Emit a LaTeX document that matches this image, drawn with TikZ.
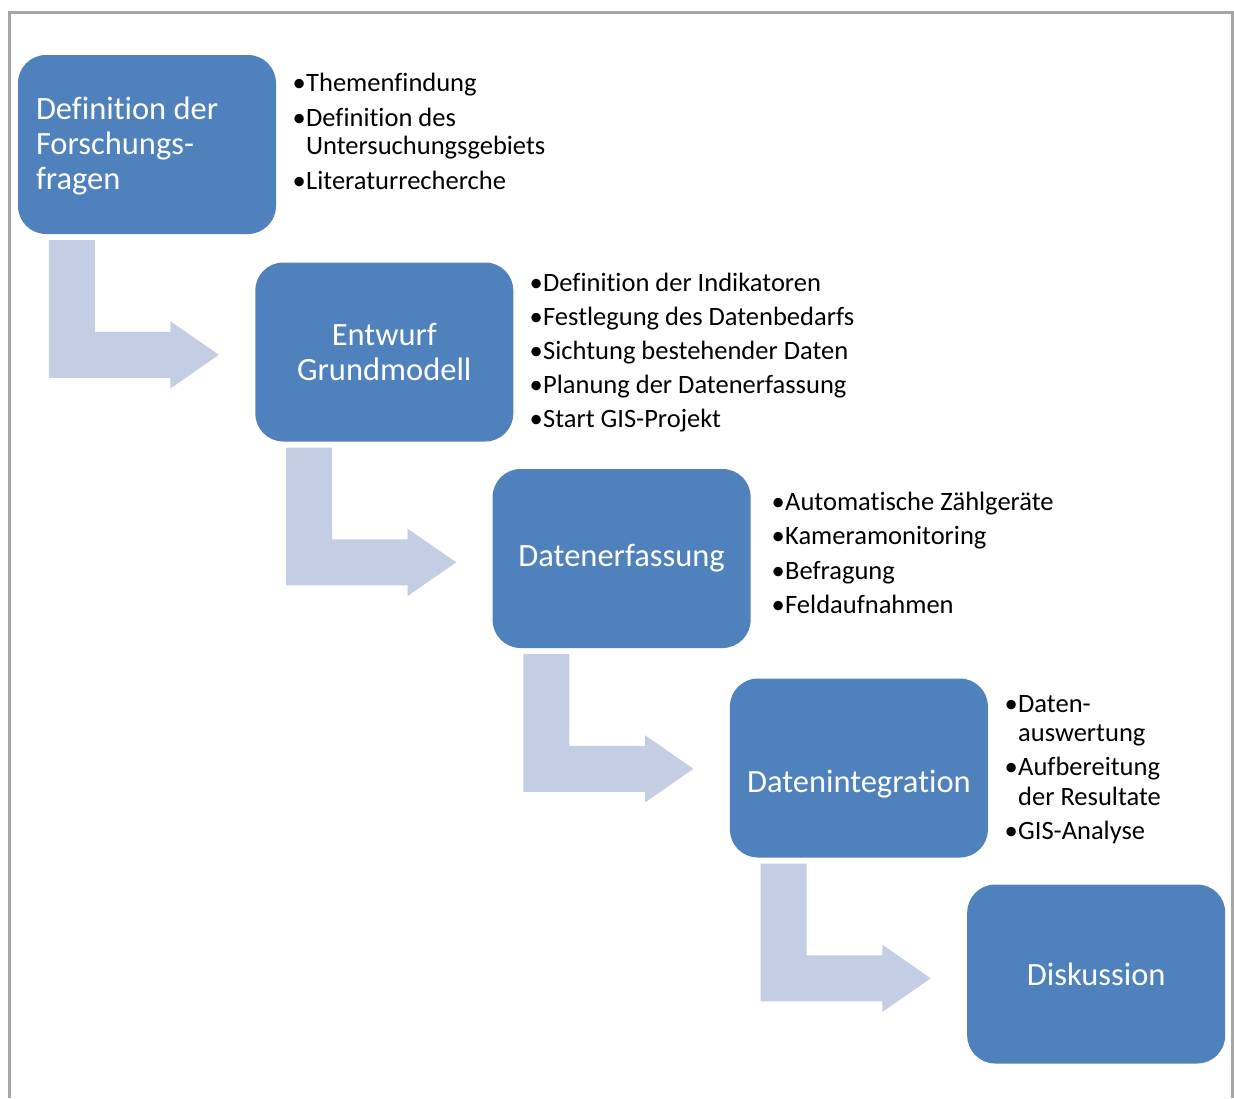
\documentclass[tikz,border=0pt]{standalone}
\usepackage{fontspec}
\setmainfont[Ligatures=CommonOff]{Carlito}
\usetikzlibrary{calc}
\definecolor{boxblue}{HTML}{4F81BD}
\definecolor{arrowblue}{HTML}{C3CDE3}
\definecolor{framegray}{HTML}{A6A6A6}
\newcommand\bulletmark{\makebox[13.5pt][l]{\textbullet}}
\begin{document}
\begin{tikzpicture}[x=1pt,y=-1pt,
  stepbox/.style={fill=boxblue, rounded corners=28pt, minimum width=258pt,
    minimum height=179pt, inner sep=0pt, text=white,
    font=\fontsize{32.5}{35}\selectfont, align=flush center},
  boxtext/.style={text=white, inner sep=0pt, font=\fontsize{32.5}{35}\selectfont},
  listline/.style={anchor=base west, inner sep=0pt, text=black,
    font=\fontsize{26.5}{28.5}\selectfont},
  bentarrow/.style={fill=arrowblue}]
\useasboundingbox (0,0) rectangle (1234,1098);
\draw[framegray, line width=3pt] (9.5,1098) -- (9.5,12.5) -- (1232.5,12.5) -- (1232.5,1098);

% boxes
\node[stepbox] (b1) at (147,144.5) {};
\node[boxtext, text width=222pt, align=flush left] (t1) at ($(b1.center)+(0,2)$) {Definition der\\Forschungs-\\fragen};
\node[stepbox] (b2) at (384.3,352) {Entwurf\\Grundmodell};
\node[stepbox] (b3) at (621.6,558.5) {Datenerfassung};
\node[stepbox] (b4) at (858.9,768) {};
\node[boxtext] (t4) at ($(b4.center)+(0,16)$) {Datenintegration};
\node[stepbox] (b5) at (1096.2,974) {Diskussion};

% bent arrows
\foreach \b in {b1,b2,b3,b4}{
  \begin{scope}[shift={($(\b.south west)+(31,6)$)}]
    \fill[arrowblue] (0,0) -- (46,0) -- (46,91.6) -- (121.6,91.6) -- (121.6,81)
      -- (170,114.6) -- (121.6,148.3) -- (121.6,137.6) -- (0,137.6) -- cycle;
  \end{scope}
}

% lists
\node[listline] (l1a) at (292.5,91.5) {\bulletmark Themenfindung};
\node[listline] (l1b) at (292.5,126) {\bulletmark Definition des};
\node[listline] (l1c) at (306,154.5) {Untersuchungsgebiets};
\node[listline] (l1d) at (292.5,189) {\bulletmark Literaturrecherche};

\node[listline] (l2a) at (529.5,291) {\bulletmark Definition der Indikatoren};
\node[listline] (l2b) at (529.5,325.5) {\bulletmark Festlegung des Datenbedarfs};
\node[listline] (l2c) at (529.5,359.5) {\bulletmark Sichtung bestehender Daten};
\node[listline] (l2d) at (529.5,393.5) {\bulletmark Planung der Datenerfassung};
\node[listline] (l2e) at (529.5,427.5) {\bulletmark Start GIS-Projekt};

\node[listline] (l3a) at (771.5,510.5) {\bulletmark Automatische Zählgeräte};
\node[listline] (l3b) at (771.5,544.5) {\bulletmark Kameramonitoring};
\node[listline] (l3c) at (771.5,579.5) {\bulletmark Befragung};
\node[listline] (l3d) at (771.5,613.5) {\bulletmark Feldaufnahmen};

\node[listline] (l4a) at (1004.5,712.5) {\bulletmark Daten-};
\node[listline] (l4b) at (1018,741.5) {auswertung};
\node[listline] (l4c) at (1004.5,775.5) {\bulletmark Aufbereitung};
\node[listline] (l4d) at (1018,805.5) {der Resultate};
\node[listline] (l4e) at (1004.5,839.5) {\bulletmark GIS-Analyse};
\end{tikzpicture}
\end{document}
